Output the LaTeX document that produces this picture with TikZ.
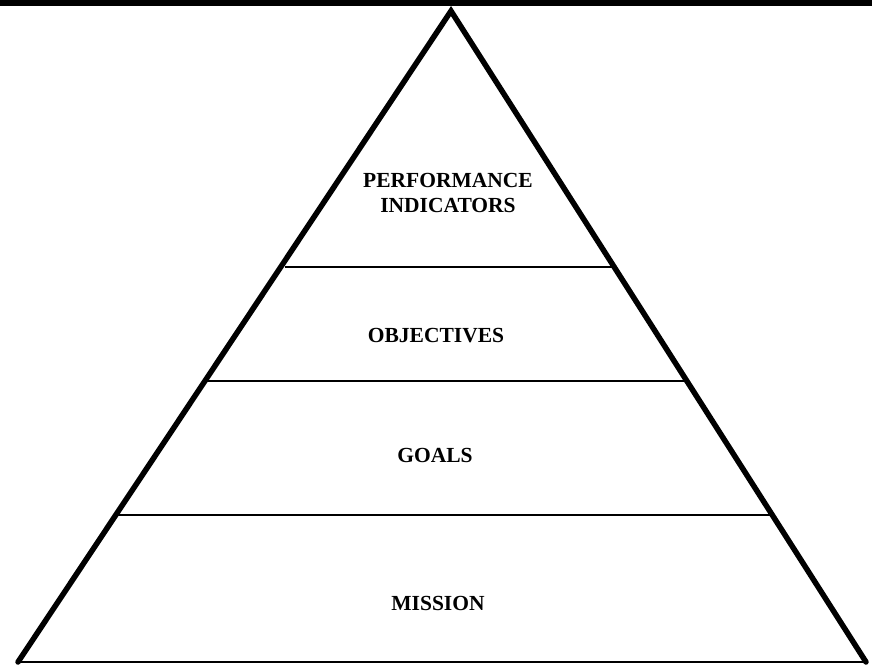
\documentclass[tikz,border=0pt]{standalone}
\usepackage{fontspec}
\setmainfont{Liberation Serif}
\begin{document}
\begin{tikzpicture}[x=1pt,y=-1pt,
  side/.style={line width=5.5pt,line join=miter,line cap=round},
  tier/.style={line width=2.8pt},
  lbl/.style={font=\bfseries\fontsize{21.5}{25}\selectfont,align=center,inner sep=0pt,anchor=base}]
\useasboundingbox (0,0) rectangle (872,665);
\fill (0,0) rectangle (872,6);
\coordinate (apex) at (451,11);
\coordinate (bl) at (18,662);
\coordinate (br) at (866,662);
\draw[line width=2.4pt] (bl) -- (br);
\draw[side] (bl) -- (apex) -- (br);
\coordinate (a1) at (285,267); \coordinate (b1) at (613,267);
\coordinate (a2) at (207,381); \coordinate (b2) at (685,381);
\coordinate (a3) at (117,515); \coordinate (b3) at (772,515);
\draw[tier] (a1) -- (b1);
\draw[tier] (a2) -- (b2);
\draw[tier] (a3) -- (b3);
\node[lbl] (pi) at (448,212) {PERFORMANCE\\INDICATORS};
\node[lbl] (obj) at (436,342) {OBJECTIVES};
\node[lbl] (goals) at (435,462) {GOALS};
\node[lbl] (mission) at (438,610) {MISSION};
\end{tikzpicture}
\end{document}
